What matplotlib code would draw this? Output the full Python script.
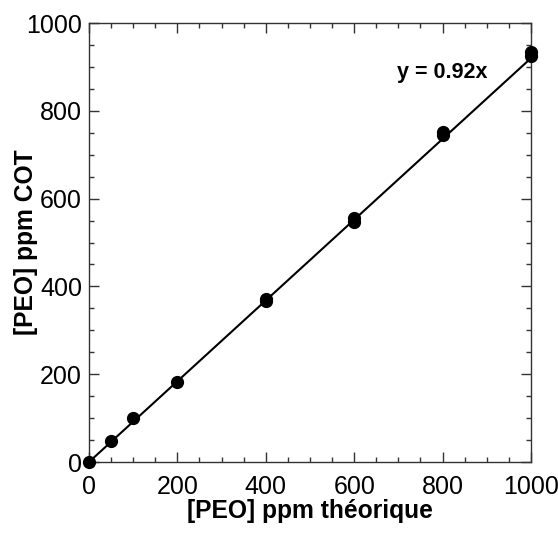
import matplotlib
matplotlib.use("Agg")
import matplotlib.pyplot as plt
from matplotlib.ticker import MultipleLocator

plt.rcParams['font.family'] = ['Liberation Sans', 'DejaVu Sans']

x_theo = [0, 50, 100, 200, 400, 400, 600, 600, 800, 800, 1000, 1000]
y_cot = [0, 48, 100, 182, 367, 371, 546, 556, 745, 752, 924, 934]
slope = 0.92
fit_x = [0, 1000]
xlabel = "[PEO] ppm théorique"
ylabel = "[PEO] ppm COT"
annot = "y = 0.92x"

fig = plt.figure(figsize=(5.58, 5.33), dpi=100)
ax = fig.add_axes([0.1595, 0.1332, 0.7921, 0.8236])

ax.plot(fit_x, [slope * v for v in fit_x], color='black', lw=1.5, clip_on=False, zorder=2)
ax.plot(x_theo, y_cot, 'o', color='black', ms=8.5, clip_on=False, zorder=3)

ax.set_xlim(0, 1000)
ax.set_ylim(0, 1000)
ax.xaxis.set_major_locator(MultipleLocator(200))
ax.yaxis.set_major_locator(MultipleLocator(200))
ax.xaxis.set_minor_locator(MultipleLocator(50))
ax.yaxis.set_minor_locator(MultipleLocator(50))
ax.tick_params(which='both', direction='in', top=True, right=True, labelsize=18, width=1, color='#333333')
ax.tick_params(which='major', length=7, pad=5)
ax.tick_params(axis='x', which='major', pad=9.5)
ax.tick_params(which='minor', length=3.5)
for s in ax.spines.values():
    s.set_linewidth(1)
    s.set_color('#333333')

ax.set_xlabel(xlabel, fontsize=17.7, fontweight='bold', labelpad=0)
ax.set_ylabel(ylabel, fontsize=17.7, fontweight='bold')
ax.yaxis.set_label_coords(-0.115, 0.5)
ax.text(800, 888, annot, fontsize=15.5, fontweight='bold', ha='center', va='center')

fig.savefig("out.png", dpi=100)
